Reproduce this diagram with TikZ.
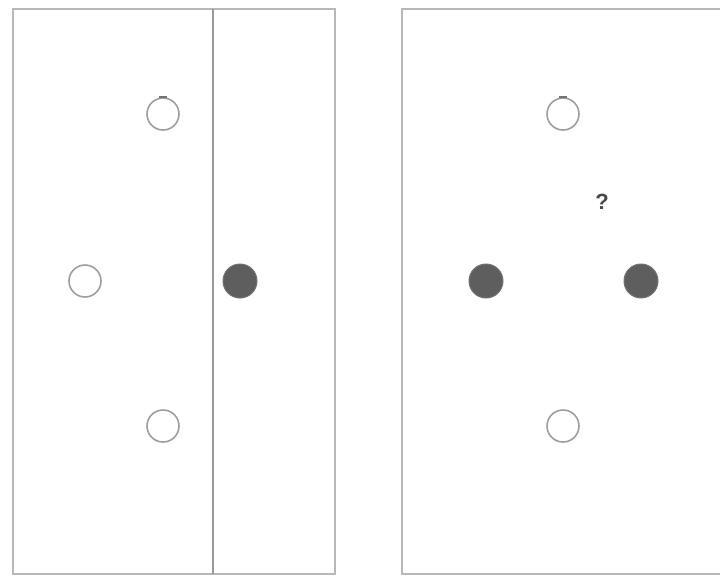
\documentclass[tikz,border=0pt]{standalone}
\usepackage{fontspec}
\setmainfont{Liberation Sans}
\begin{document}
\begin{tikzpicture}[x=1pt,y=-1pt,
  frame/.style={draw=black!28,line width=2pt},
  divider/.style={draw=black!40,line width=1.6pt},
  open/.style={circle,draw=black!38,line width=1.6pt,fill=white,minimum size=32pt,inner sep=0pt},
  filled/.style={circle,fill=black!63,draw=black!55,line width=1pt,minimum size=34pt,inner sep=0pt},
  topmark/.style={draw=black!55,line width=1.5pt}]
\useasboundingbox (0,0) rectangle (720,576);
\draw[frame] (13,9) rectangle (335,574);
\draw[divider] (213,9) -- (213,574);
\draw[frame] (722,9) -- (402,9) -- (402,574) -- (722,574);
% left panel
\node[open] (l1) at (163,114) {};
\node[open] (l2) at (85,281) {};
\node[open] (l3) at (163,426) {};
\node[filled] (l4) at (240,281) {};
\draw[topmark] ([xshift=-4pt]l1.north) -- ([xshift=4pt]l1.north);
% right panel
\node[open] (r1) at (563,114) {};
\node[open] (r3) at (563,426) {};
\node[filled] (r2) at (486,281) {};
\node[filled] (r4) at (641,281) {};
\draw[topmark] ([xshift=-4pt]r1.north) -- ([xshift=4pt]r1.north);
\node[font=\fontsize{22}{26}\selectfont\bfseries,text=black!72] (q) at (602,202) {?};
\end{tikzpicture}
\end{document}
